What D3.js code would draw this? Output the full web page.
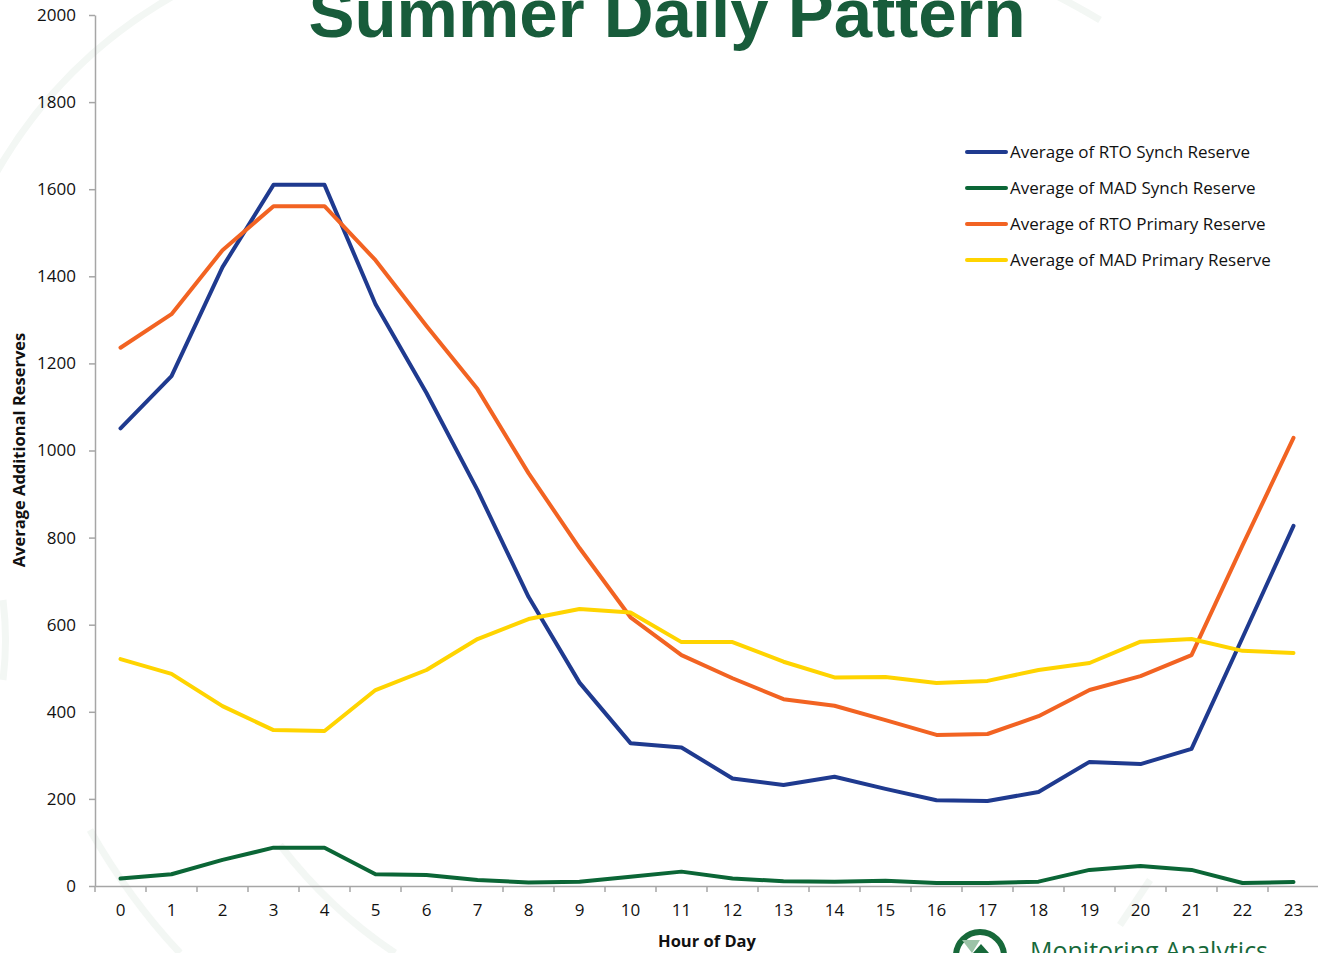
<!DOCTYPE html>
<html lang="en">
<head>
    <meta charset="utf-8">
    <title>Summer Daily Pattern</title>
    <style>
        body { margin: 0; background-color: #fff; }
        svg { display: block; }
        .tick text { font-family: 'Open Sans', sans-serif; font-size: 17px; fill: #111; }
        .axis-title { font-family: 'Open Sans', sans-serif; font-size: 16.5px; font-weight: bold; fill: #111; }
        .legend text { font-family: 'Open Sans', sans-serif; font-size: 17px; fill: #111; }
    </style>
    <script src="https://d3js.org/d3.v7.min.js" charset="utf-8"></script>
</head>
<body>
    <svg id="chart" width="1318" height="953"></svg>

    <script type="text/javascript">
    var hours = d3.range(0, 24);
    var yTicks = [0, 200, 400, 600, 800, 1000, 1200, 1400, 1600, 1800, 2000];

    var rtoSynch = [1051, 1171, 1421, 1610, 1610, 1336, 1132, 909, 664, 467, 328, 318,
                    247, 232, 251, 223, 197, 195, 216, 285, 280, 315, 570, 827];
    var madSynch = [17, 27, 60, 88, 88, 27, 25, 14, 8, 10, 21, 33,
                    17, 11, 10, 12, 7, 7, 10, 37, 46, 37, 7, 9];
    var rtoPrimary = [1236, 1313, 1460, 1561, 1561, 1437, 1286, 1141, 948, 776, 617, 530,
                      477, 429, 414, 381, 347, 349, 390, 450, 482, 530, 782, 1029];
    var madPrimary = [521, 487, 413, 358, 356, 450, 496, 567, 613, 636, 628, 560,
                      560, 515, 479, 480, 466, 471, 496, 512, 561, 567, 540, 535];

    var seriesNames = ["Average of RTO Synch Reserve", "Average of MAD Synch Reserve",
                       "Average of RTO Primary Reserve", "Average of MAD Primary Reserve"];
    var seriesColors = ["#1f3a8f", "#0b6636", "#f26322", "#ffd400"];
    var seriesValues = [rtoSynch, madSynch, rtoPrimary, madPrimary];

    var svg = d3.select("#chart");
    var x = d3.scaleBand().domain(hours).range([95, 1319]);
    var y = d3.scaleLinear().domain([0, 2000]).range([886, 15]);

    // faint watermark arcs behind the chart
    var wm = svg.append("g").attr("fill", "none").attr("stroke", "#f3f7f4").attr("stroke-width", 7);
    wm.append("path").attr("d", "M -5,175 Q 60,60 175,-5");
    wm.append("path").attr("d", "M 1055,-5 Q 1080,8 1100,20");
    wm.append("path").attr("d", "M 90,830 Q 130,900 180,953");
    wm.append("path").attr("d", "M 280,845 Q 330,910 395,953");
    wm.append("path").attr("d", "M 1150,880 L 1120,925");
    wm.append("path").attr("d", "M 3,600 Q 8,640 3,680");

    // title
    svg.append("text")
        .attr("x", 667).attr("y", 37)
        .attr("text-anchor", "middle")
        .style("font-family", "'Liberation Sans', Arial, sans-serif")
        .style("font-weight", "bold")
        .style("font-size", "69px")
        .style("fill", "#185c3b")
        .text("Summer Daily Pattern");

    // y axis
    var yAxis = svg.append("g")
        .attr("transform", "translate(95,0)")
        .call(d3.axisLeft(y).tickValues(yTicks).tickFormat(d3.format("d"))
            .tickSize(6).tickSizeOuter(0).tickPadding(13));
    yAxis.selectAll("line, path").attr("stroke", "#a6a6a6").attr("stroke-width", 1.5);

    // x axis: labels at band centres, tick marks on band edges
    var xAxis = svg.append("g")
        .attr("transform", "translate(0,886)")
        .call(d3.axisBottom(x).tickSize(0).tickSizeOuter(0).tickPadding(18));
    xAxis.select("path").attr("stroke", "#a6a6a6").attr("stroke-width", 1.5);
    xAxis.selectAll(".tick line").remove();
    xAxis.selectAll(".edge")
        .data(hours.map(function(h) { return x(h); }).concat([x.range()[1]]))
        .enter().append("line")
        .attr("x1", function(d) { return d; }).attr("x2", function(d) { return d; })
        .attr("y1", 0).attr("y2", 6)
        .attr("stroke", "#a6a6a6").attr("stroke-width", 1.5);

    // axis titles
    svg.append("text").attr("class", "axis-title")
        .attr("x", 707).attr("y", 947).attr("text-anchor", "middle")
        .text("Hour of Day");
    svg.append("text").attr("class", "axis-title")
        .attr("transform", "translate(25,450) rotate(-90)")
        .attr("text-anchor", "middle")
        .text("Average Additional Reserves");

    // lines
    var line = d3.line()
        .x(function(d, i) { return x(hours[i]) + x.bandwidth() / 2; })
        .y(function(d) { return y(d); });

    for (var i = 0; i < seriesValues.length; i++) {
        svg.append("path")
            .attr("fill", "none")
            .attr("stroke", seriesColors[i])
            .attr("stroke-width", 4)
            .attr("stroke-linejoin", "round")
            .attr("stroke-linecap", "round")
            .attr("d", line(seriesValues[i]));
    }

    // legend
    var legend = svg.append("g").attr("class", "legend");
    for (var i = 0; i < seriesNames.length; i++) {
        var ly = 152 + i * 36;
        legend.append("line")
            .attr("x1", 967).attr("x2", 1006).attr("y1", ly).attr("y2", ly)
            .attr("stroke", seriesColors[i]).attr("stroke-width", 4)
            .attr("stroke-linecap", "round");
        legend.append("text")
            .attr("x", 1010).attr("y", ly).attr("dy", "0.35em")
            .text(seriesNames[i]);
    }

    // logo at the bottom edge, cut by the frame
    var logo = svg.append("g");
    logo.append("circle").attr("cx", 980).attr("cy", 956).attr("r", 24)
        .attr("fill", "none").attr("stroke", "#17693a").attr("stroke-width", 6);
    logo.append("path").attr("d", "M 962,940 L 980,940 L 972,953 Z").attr("fill", "#9cc3a8");
    logo.append("path").attr("d", "M 981,944 L 989,953 L 973,953 Z").attr("fill", "#17693a");
    logo.append("text")
        .attr("x", 1030).attr("y", 960)
        .style("font-family", "'Open Sans', sans-serif")
        .style("font-size", "25px")
        .style("fill", "#17693a")
        .text("Monitoring Analytics");
    </script>
</body>
</html>
